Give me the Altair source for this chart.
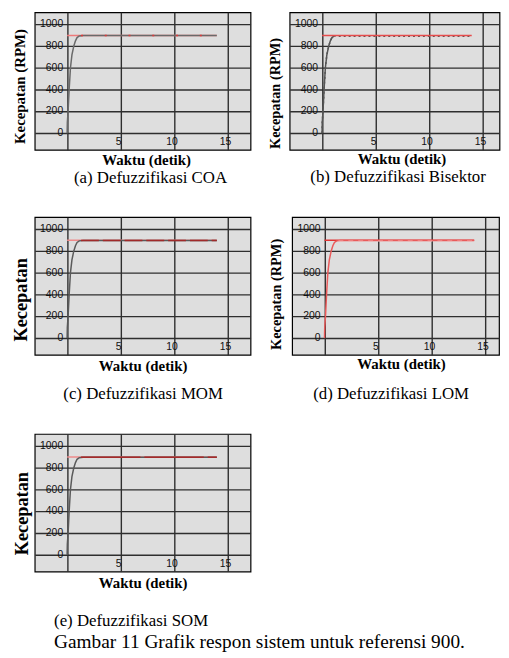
import altair as alt
import pandas as pd

# ---- data ----
PX_PER_S = 10.8
X_MIN = -3.03
Y_DOMAIN = [-153, 1113]
x_grid = [0, 5, 10, 15]
x_tick_vals = [5, 10, 15]
y_grid = [0, 200, 400, 600, 800, 1000]

# system response (speed, RPM) vs time (s)
t_resp = [0, 0.02, 0.09, 0.19, 0.31, 0.45, 0.62, 0.78, 0.93, 1.14, 1.5, 14.0]
v_resp = [0, 100, 200, 400, 600, 720, 800, 850, 880, 895, 898, 898]
# reference speed 900
t_ref = [0, 14.0]
v_ref = [900, 900]
# steady-state part of the response
t_tail = [1.3, 14.0]
v_tail = [898, 898]
v_tail_b = [893, 893]

captions = ["(a) Defuzzifikasi COA", "(b) Defuzzifikasi Bisektor",
            "(c) Defuzzifikasi MOM", "(d) Defuzzifikasi LOM",
            "(e) Defuzzifikasi SOM"]
fig_caption = "Gambar 11 Grafik respon sistem untuk referensi 900."
y_titles = ["Kecepatan (RPM)", "Kecepatan (RPM)", "Kecepatan", "Kecepatan (RPM)", "Kecepatan"]
x_title = "Waktu (detik)"

SERIF = "Liberation Serif"
SANS = "Liberation Sans"
H = 139


def df_line(t, v):
    return pd.DataFrame({"t": t, "v": v})


def make_enc(W, xt, yt):
    xmax = X_MIN + W / PX_PER_S

    def xenc():
        return alt.X("t:Q", scale=alt.Scale(domain=[X_MIN, xmax], nice=False, zero=False),
                     axis=alt.Axis(values=x_grid, grid=True, gridColor="#2e2e2e", gridWidth=1.4,
                                   labels=False, ticks=False, domain=False,
                                   title=x_title, titleFont=SERIF, titleFontSize=15,
                                   titleFontWeight="bold", titleColor="black",
                                   titlePadding=xt["pad"], titleX=W / 2 + xt["dx"]))

    def yenc():
        return alt.Y("v:Q", scale=alt.Scale(domain=Y_DOMAIN, nice=False, zero=False),
                     axis=alt.Axis(values=y_grid, grid=True, gridColor="#2e2e2e", gridWidth=1.4,
                                   labels=False, ticks=False, domain=False,
                                   title=yt["text"], titleFont=SERIF, titleFontSize=yt["size"],
                                   titleFontWeight="bold", titleColor="black",
                                   titlePadding=yt["pad"], titleY=yt["cy"]))
    return xenc, yenc


def panel(style, W, xt, yt, cap):
    xenc, yenc = make_enc(W, xt, yt)

    def line(t, v, color, width=1.5, dash=None):
        kw = dict(color=color, strokeWidth=width, clip=True)
        if dash:
            kw["strokeDash"] = dash
        return alt.Chart(df_line(t, v)).mark_line(**kw).encode(x=xenc(), y=yenc())

    ylab = pd.DataFrame({"t": [0] * len(y_grid), "v": y_grid, "s": [str(v) for v in y_grid]})
    xlab = pd.DataFrame({"t": x_tick_vals, "v": [0] * len(x_tick_vals),
                         "s": [str(v) for v in x_tick_vals]})
    ytext = alt.Chart(ylab).mark_text(align="right", baseline="middle", dx=-4, font=SANS,
                                      fontSize=10.5, color="#111").encode(
        x=xenc(), y=yenc(), text="s:N")
    xtext = alt.Chart(xlab).mark_text(align="center", baseline="top", dx=-2, dy=4, font=SANS,
                                      fontSize=10.5, color="#111").encode(
        x=xenc(), y=yenc(), text="s:N")
    if style == "a":
        layers = [line(t_ref, v_ref, "#ee7a7a"),
                  line(t_resp, v_resp, "#6a6a6a"),
                  line(t_tail, v_tail, "#d83a3a", 1.5, [2, 22])]
    elif style == "b":
        layers = [line(t_resp[:-2] + t_tail, v_resp[:-2] + v_tail_b, "#555555", 1.5, [2, 3]),
                  line(t_resp[:-2], v_resp[:-2], "#555555"),
                  line(t_ref, v_ref, "#e64c4c")]
    elif style == "c":
        layers = [line(t_ref, v_ref, "#ee8a8a"),
                  line(t_resp, v_resp, "#5a5a5a"),
                  line(t_tail, v_tail, "#a02a2a", 1.5, [18, 4])]
    elif style == "d":
        layers = [line(t_ref, v_ref, "#e03434"),
                  line(t_resp, v_resp, "#ea5a5a"),
                  line(t_tail, v_tail_b, "#f4b4b4", 1, [5, 5])]
    else:
        layers = [line(t_ref, v_ref, "#ee8a8a"),
                  line(t_resp, v_resp, "#5a5a5a"),
                  line(t_tail, v_tail, "#a52a2a", 1.5, [60, 4])]
    return alt.layer(ytext, xtext, *layers).properties(width=W, height=H, title=cap)


def cap(text, offset, dx, anchor="middle", subtitle=None):
    kw = dict(text=text, orient="bottom", anchor=anchor, frame="group",
              font=SERIF, fontSize=17, fontWeight="normal", color="black",
              offset=offset, dx=dx)
    if subtitle:
        kw.update(subtitle=subtitle, subtitleFont=SERIF, subtitleFontSize=19.5,
                  subtitleColor="black", subtitlePadding=3)
    return alt.TitleParams(**kw)


pa = panel("a", 218, {"pad": 3, "dx": 3.5},
           {"text": y_titles[0], "size": 15, "pad": 7, "cy": 74.5},
           cap(captions[0], 2, 8))
pb = panel("b", 212, {"pad": 2, "dx": 7},
           {"text": y_titles[1], "size": 14.5, "pad": 7, "cy": 81.5},
           cap(captions[1], 2, 3.5))
pc = panel("c", 218, {"pad": 4, "dx": 0},
           {"text": y_titles[2], "size": 18.5, "pad": 4, "cy": 83},
           cap(captions[2], 13, 0.5))
pd_ = panel("d", 209, {"pad": 2, "dx": 5.5},
            {"text": y_titles[3], "size": 14.5, "pad": 9, "cy": 77.5},
            cap(captions[3], 15, -4.5))
pe = panel("e", 218, {"pad": 4, "dx": 0},
           {"text": y_titles[4], "size": 18.5, "pad": 3, "cy": 80},
           cap(captions[4], 23, 19.5, anchor="start", subtitle=fig_caption))

row1 = alt.hconcat(pa, pb, spacing=15.5)
row2 = alt.hconcat(pc, pd_, spacing=16)
chart = alt.vconcat(row1, row2, pe, spacing=30).properties(
    padding={"left": 3, "top": 0, "right": 0, "bottom": 0}
).configure_view(fill="#dedede", stroke="black", strokeWidth=1.2)

chart.save("out.html", embed_options={"renderer": "svg", "actions": False})
